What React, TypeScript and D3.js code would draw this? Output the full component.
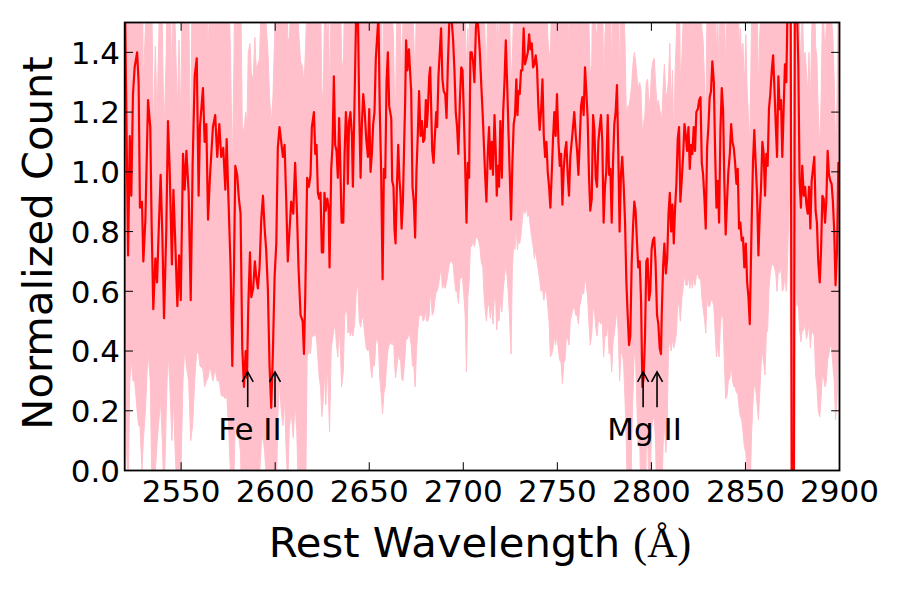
import React from 'react';
import * as d3 from 'd3';

// Rest wavelength (Å), normalized count and its 1-sigma error
const WAVE = [
  2520.2, 2521.8, 2522.7, 2523.5, 2524.4, 2525.3, 2526.6, 2527.4, 2528.1, 2529.2,
  2529.9, 2531.0, 2532.4, 2533.6, 2534.3, 2535.2, 2536.3, 2537.2, 2537.9, 2539.1,
  2540.0, 2540.9, 2542.1, 2543.0, 2543.9, 2545.1, 2545.9, 2546.9, 2548.0, 2548.9,
  2549.8, 2551.0, 2551.9, 2552.8, 2554.0, 2555.1, 2556.1, 2557.2, 2558.3, 2559.3,
  2560.0, 2561.6, 2562.5, 2563.4, 2564.3, 2565.3,
  2566.9, 2568.1, 2569.2, 2570.3, 2571.3, 2572.4, 2573.5, 2574.2, 2575.2, 2576.3,
  2577.2, 2578.1, 2578.8, 2579.8, 2580.7, 2581.6, 2582.5, 2583.4, 2584.3, 2585.0,
  2585.7, 2586.6, 2587.3, 2588.3, 2589.2, 2589.9, 2590.8, 2591.7, 2592.6, 2593.5,
  2594.4, 2595.2, 2596.1, 2597.0, 2597.9, 2598.8, 2599.7, 2600.6, 2601.4, 2602.3,
  2603.2, 2604.1, 2605.0, 2605.9, 2606.7, 2607.5, 2608.5, 2609.6, 2610.6, 2611.5,
  2612.4, 2613.5,
  2614.6, 2615.3, 2616.0, 2617.0, 2617.9, 2618.8, 2619.5, 2620.6, 2621.3, 2622.0,
  2622.7, 2623.4, 2624.1, 2624.8, 2625.5, 2626.2, 2626.9, 2627.7, 2628.4, 2628.9,
  2629.8, 2630.5, 2631.2, 2631.9, 2632.6, 2633.3, 2634.0, 2634.7, 2635.3, 2636.2,
  2636.9, 2637.6, 2638.3, 2638.6, 2639.3, 2640.0, 2640.8, 2641.3, 2642.2, 2643.1,
  2644.0, 2644.7, 2645.4, 2646.1, 2646.8, 2647.5, 2648.4, 2649.3, 2650.0, 2650.7,
  2651.4, 2652.1, 2652.8, 2653.5, 2654.2, 2654.9, 2655.6, 2656.3, 2657.1, 2657.8,
  2658.5, 2659.2, 2659.9, 2660.6, 2661.7,
  2662.2, 2662.9, 2663.4, 2664.0, 2664.7, 2665.4, 2666.1, 2666.6, 2667.2, 2667.9,
  2668.6, 2669.1, 2669.6, 2670.3, 2671.1, 2671.6, 2672.3, 2673.0, 2673.7, 2674.4,
  2675.1, 2675.8, 2676.5, 2677.3, 2678.0, 2678.7, 2679.4, 2680.1, 2680.6, 2681.1,
  2681.9, 2682.4, 2682.9, 2683.5, 2684.2, 2684.9, 2685.6, 2686.1, 2686.8, 2687.5,
  2688.2, 2688.9, 2689.6, 2690.4, 2691.1, 2691.8, 2692.5, 2693.2, 2693.9, 2694.6,
  2695.3, 2696.0, 2696.7, 2697.4, 2698.2, 2698.9, 2699.6, 2700.3, 2701.0, 2701.7,
  2702.4, 2703.1, 2703.8, 2704.5, 2705.2, 2705.9, 2706.7, 2707.4, 2708.1, 2708.8,
  2709.5, 2710.4,
  2710.9, 2711.6, 2712.3, 2713.0, 2713.7, 2714.4, 2715.1, 2715.8, 2716.6, 2717.3,
  2717.8, 2718.3, 2719.0, 2719.7, 2720.5, 2721.2, 2721.9, 2722.6, 2723.3, 2724.0,
  2724.7, 2725.4, 2726.1, 2726.8, 2727.5, 2728.2, 2728.8, 2729.3, 2730.0, 2730.7,
  2731.4, 2732.1, 2732.8, 2733.6, 2734.3, 2735.0, 2735.7, 2736.4, 2737.1, 2737.8,
  2738.5, 2739.2, 2739.9, 2740.6, 2741.3, 2742.1, 2742.8, 2743.5, 2744.2, 2744.9,
  2745.6, 2746.3, 2747.0, 2747.7, 2748.4, 2749.1, 2749.8, 2750.6, 2751.3, 2752.0,
  2752.7, 2753.4, 2754.1, 2754.8, 2755.5, 2756.2, 2756.9, 2758.2,
  2759.0, 2759.8, 2760.5, 2761.2, 2761.9, 2762.6, 2763.3, 2764.0, 2764.7, 2765.4,
  2766.1, 2766.8, 2767.5, 2768.3, 2769.0, 2769.7, 2770.4, 2771.1, 2771.8, 2772.5,
  2773.2, 2773.9, 2774.6, 2775.3, 2776.0, 2776.8, 2777.5, 2778.2, 2778.9, 2779.6,
  2780.3, 2781.0, 2781.7, 2782.4, 2783.1, 2783.8, 2784.5, 2785.3, 2786.0, 2786.7,
  2787.4, 2788.1, 2788.8, 2789.5, 2790.2, 2790.9, 2791.6, 2792.3, 2793.0, 2793.8,
  2794.5, 2795.2, 2795.9, 2796.6, 2797.3, 2798.0, 2798.7, 2799.4, 2800.1, 2800.8,
  2801.5, 2802.2, 2803.0, 2803.7, 2804.4, 2805.1,
  2805.5, 2806.2, 2806.9, 2807.7, 2808.4, 2809.1, 2809.8, 2810.5, 2811.2, 2811.9,
  2812.6, 2813.3, 2814.0, 2814.7, 2815.4, 2816.2, 2816.9, 2817.6, 2818.3, 2819.0,
  2819.7, 2820.4, 2821.1, 2821.8, 2822.5, 2823.2, 2823.9, 2824.7, 2825.4, 2826.1,
  2826.8, 2827.5, 2828.2, 2828.9, 2829.6, 2830.3, 2831.0, 2831.7, 2832.4, 2833.2,
  2833.9, 2834.6, 2835.3, 2836.0, 2836.7, 2837.4, 2838.1, 2838.8, 2839.5, 2840.2,
  2840.9, 2841.7, 2842.4, 2843.1, 2843.8, 2844.5, 2845.2, 2845.9, 2846.6, 2847.3,
  2848.0, 2848.7, 2849.4, 2850.2, 2850.9, 2851.6, 2852.3,
  2853.3, 2854.0, 2854.7, 2855.5, 2856.2, 2856.9, 2857.6, 2858.3, 2859.0, 2859.7,
  2860.4, 2861.1, 2861.8, 2862.5, 2863.2, 2864.0, 2864.7, 2865.4, 2866.1, 2866.8,
  2867.5, 2868.2, 2868.9, 2869.6, 2870.3, 2871.0, 2871.7, 2872.1, 2872.8, 2873.7,
  2874.8, 2875.6, 2876.5, 2877.4, 2878.1, 2878.8, 2879.5, 2880.2, 2881.0, 2881.7,
  2882.4, 2883.1, 2883.8, 2884.5, 2885.2, 2885.9, 2886.6, 2887.3, 2888.0, 2888.7,
  2889.5, 2890.2, 2890.9, 2891.6, 2892.3, 2893.0, 2893.7, 2894.4, 2895.1, 2895.8,
  2896.5, 2897.2, 2897.9, 2898.7, 2899.4, 2900.0,
];

const FLUX = [
  1.55, 0.72, 1.12, 0.92, 1.26, 1.35, 1.40, 1.30, 0.88, 0.90,
  0.70, 0.84, 1.24, 1.15, 0.83, 0.54, 0.71, 0.63, 0.77, 0.99,
  0.79, 0.51, 0.80, 1.17, 1.01, 0.69, 0.94, 0.76, 0.55, 0.72,
  0.57, 1.06, 0.94, 1.07, 0.93, 0.57, 1.02, 1.32, 1.38, 0.92,
  1.15, 1.28, 1.10, 1.16, 0.84, 0.98,
  1.15, 1.19, 1.05, 1.16, 1.05, 1.08, 0.94, 1.11, 0.90, 0.68,
  0.35, 0.68, 1.02, 0.99, 0.91, 0.86, 0.41, 0.28, 0.40, 0.31,
  0.55, 0.73, 0.58, 0.61, 0.70, 0.65, 0.61, 0.68, 0.84, 0.92,
  0.81, 0.74, 0.61, 0.35, 0.21, 0.40, 0.65, 0.76, 1.08, 1.15,
  1.10, 1.05, 1.09, 0.90, 0.70, 0.79, 0.90, 0.86, 1.03, 0.88,
  0.68, 0.52,
  0.50, 0.39, 0.59, 0.98, 0.95, 0.99, 1.15, 1.20, 1.06, 1.09,
  0.93, 0.91, 0.93, 0.73, 0.73, 0.93, 0.87, 0.91, 0.88, 0.68,
  1.01, 1.09, 1.32, 1.09, 1.07, 0.98, 1.18, 1.00, 0.83, 0.83,
  1.06, 1.20, 1.12, 0.96, 1.17, 1.20, 1.12, 0.95, 1.24, 1.55,
  1.52, 1.20, 0.98, 1.16, 1.26, 1.21, 1.11, 1.05, 1.21, 1.00,
  1.06, 1.16, 1.20, 1.38, 1.45, 1.52, 1.21, 1.01, 0.64, 1.01,
  0.98, 1.30, 1.40, 1.22, 1.18,
  0.97, 0.95, 0.81, 0.76, 0.95, 1.09, 0.97, 0.93, 0.81, 0.90,
  1.10, 1.24, 1.44, 1.34, 1.41, 1.35, 1.27, 0.95, 0.90, 0.78,
  1.00, 1.12, 1.27, 1.12, 1.17, 1.10, 1.11, 1.24, 1.15, 1.20,
  1.32, 1.35, 1.22, 1.07, 1.03, 1.12, 1.20, 1.15, 1.32, 1.40,
  1.48, 1.31, 1.27, 1.26, 1.18, 1.36, 1.49, 1.55, 1.50, 1.44,
  1.34, 1.20, 1.15, 1.06, 1.24, 1.35, 1.34, 1.19, 1.02, 0.83,
  1.03, 0.98, 1.40, 1.40, 1.37, 1.30, 1.48, 1.53, 1.47, 1.40,
  1.30, 1.18,
  1.10, 0.99, 0.90, 1.06, 1.15, 1.01, 1.10, 0.99, 1.19, 1.06,
  0.92, 1.02, 0.95, 1.17, 0.98, 1.20, 1.30, 1.44, 1.30, 1.14,
  0.99, 0.84, 1.03, 1.16, 1.19, 1.31, 1.19, 1.27, 1.26, 1.34,
  1.34, 1.48, 1.36, 1.38, 1.40, 1.46, 1.41, 1.43, 1.35, 1.36,
  1.39, 1.35, 1.22, 1.14, 1.20, 1.31, 1.12, 1.05, 1.10, 1.00,
  0.95, 0.88, 0.99, 1.11, 1.20, 1.12, 1.26, 1.10, 1.02, 1.06,
  0.89, 1.01, 1.07, 1.10, 0.99, 0.92, 1.05, 1.14,
  1.20, 1.12, 1.07, 0.99, 1.10, 1.22, 1.25, 1.19, 1.35, 1.27,
  1.18, 0.99, 0.87, 0.91, 1.19, 1.14, 0.98, 0.95, 1.10, 1.15,
  1.19, 1.10, 0.83, 0.95, 1.00, 1.19, 0.99, 1.01, 0.83, 1.03,
  1.16, 1.20, 1.29, 1.06, 0.80, 0.99, 1.05, 0.95, 0.83, 0.63,
  0.52, 0.42, 0.45, 0.69, 0.81, 0.90, 0.87, 0.77, 0.68, 0.70,
  0.57, 0.28, 0.31, 0.45, 0.70, 0.71, 0.57, 0.60, 0.74, 0.77,
  0.78, 0.70, 0.52, 0.49, 0.41, 0.39,
  0.52, 0.68, 0.76, 0.66, 0.71, 0.86, 0.93, 0.80, 0.89, 0.76,
  0.88, 0.96, 1.11, 1.15, 0.90, 0.98, 1.06, 1.16, 1.12, 1.07,
  1.15, 1.01, 1.09, 1.06, 1.15, 1.07, 1.20, 1.21, 1.24, 1.25,
  1.03, 0.99, 0.91, 0.81, 1.08, 1.15, 1.25, 1.27, 1.37, 1.30,
  1.06, 0.88, 0.97, 0.83, 1.14, 1.28, 1.21, 0.96, 0.79, 0.90,
  1.00, 1.06, 1.16, 1.10, 1.08, 1.03, 0.96, 1.01, 0.81, 0.83,
  0.77, 0.78, 0.68, 0.76, 0.63, 0.58, 0.49,
  0.83, 1.03, 1.14, 1.02, 0.92, 0.72, 0.86, 0.95, 1.10, 1.06,
  0.92, 1.06, 1.02, 1.21, 1.26, 1.34, 1.39, 1.28, 1.16, 1.05,
  1.32, 1.21, 1.24, 1.05, 1.21, 1.36, 1.30, 1.44, 1.80, 2.50,
  -0.50, -0.50, 2.30, 1.55, 1.36, 0.97, 0.88, 1.02, 0.92, 0.95,
  0.89, 0.86, 0.95, 0.81, 0.97, 1.01, 1.05, 0.87, 0.83, 0.70,
  0.63, 0.74, 0.92, 0.91, 0.83, 0.90, 1.07, 0.99, 0.97, 0.96,
  0.90, 0.80, 0.62, 0.74, 1.03, 1.03,
];

const FLUX_ERR = [
  1.30, 0.82, 0.82, 0.55, 0.96, 1.05, 1.20, 1.15, 0.73, 0.90,
  0.60, 0.64, 0.84, 0.85, 0.83, 0.59, 0.71, 0.54, 0.62, 0.76,
  0.69, 0.61, 0.60, 0.77, 0.71, 0.59, 0.70, 0.71, 0.65, 0.72,
  0.60, 0.76, 0.53, 0.72, 0.63, 0.47, 0.87, 1.02, 0.98, 0.53,
  0.80, 0.94, 0.82, 0.86, 0.53, 0.63,
  0.85, 0.85, 0.75, 0.86, 0.80, 0.83, 0.70, 0.85, 0.75, 0.70,
  0.65, 0.70, 0.85, 0.85, 0.80, 0.80, 0.75, 0.85, 0.80, 0.85,
  0.85, 0.70, 0.75, 0.70, 0.75, 0.70, 0.75, 0.70, 0.75, 0.80,
  0.75, 0.75, 0.80, 0.90, 0.95, 0.85, 0.80, 0.85, 0.90, 0.85,
  0.90, 0.90, 0.85, 0.85, 0.75, 0.65, 0.70, 0.75, 0.80, 0.75,
  0.80, 0.85,
  0.85, 0.90, 0.80, 0.60, 0.55, 0.60, 0.70, 0.75, 0.60, 0.65,
  0.55, 0.60, 0.65, 0.55, 0.50, 0.60, 0.65, 0.55, 0.65, 0.55,
  0.60, 0.65, 0.85, 0.60, 0.65, 0.60, 0.70, 0.60, 0.55, 0.50,
  0.55, 0.65, 0.60, 0.50, 0.70, 0.75, 0.65, 0.50, 0.75, 0.95,
  0.90, 0.70, 0.50, 0.65, 0.75, 0.75, 0.70, 0.65, 0.80, 0.65,
  0.75, 0.80, 0.85, 0.95, 1.00, 1.10, 0.90, 0.75, 0.45, 0.75,
  0.70, 0.95, 1.00, 0.80, 0.75,
  0.55, 0.50, 0.45, 0.45, 0.60, 0.70, 0.60, 0.55, 0.50, 0.60,
  0.75, 0.85, 1.00, 0.90, 0.95, 0.90, 0.85, 0.60, 0.55, 0.50,
  0.60, 0.65, 0.75, 0.60, 0.65, 0.60, 0.60, 0.70, 0.65, 0.70,
  0.80, 0.75, 0.65, 0.55, 0.50, 0.55, 0.60, 0.55, 0.70, 0.75,
  0.80, 0.70, 0.65, 0.65, 0.55, 0.70, 0.80, 0.85, 0.80, 0.75,
  0.70, 0.60, 0.55, 0.50, 0.60, 0.70, 0.70, 0.60, 0.50, 0.50,
  0.45, 0.35, 0.65, 0.65, 0.60, 0.55, 0.70, 0.75, 0.70, 0.65,
  0.60, 0.50,
  0.50, 0.45, 0.40, 0.50, 0.60, 0.50, 0.55, 0.50, 0.60, 0.50,
  0.45, 0.50, 0.45, 0.60, 0.45, 0.60, 0.65, 0.75, 0.65, 0.55,
  0.50, 0.45, 0.35, 0.40, 0.45, 0.50, 0.45, 0.50, 0.50, 0.55,
  0.50, 0.60, 0.50, 0.50, 0.55, 0.60, 0.60, 0.65, 0.60, 0.65,
  0.65, 0.65, 0.55, 0.50, 0.60, 0.70, 0.55, 0.45, 0.50, 0.45,
  0.45, 0.50, 0.60, 0.70, 0.75, 0.70, 0.80, 0.70, 0.65, 0.70,
  0.60, 0.65, 0.70, 0.65, 0.55, 0.50, 0.55, 0.60,
  0.65, 0.60, 0.55, 0.50, 0.55, 0.65, 0.65, 0.60, 0.70, 0.65,
  0.60, 0.50, 0.45, 0.45, 0.65, 0.60, 0.50, 0.50, 0.60, 0.65,
  0.70, 0.60, 0.45, 0.50, 0.55, 0.70, 0.60, 0.60, 0.50, 0.60,
  0.70, 0.70, 0.75, 0.60, 0.50, 0.60, 0.65, 0.60, 0.60, 0.55,
  0.70, 0.80, 0.80, 0.60, 0.55, 0.50, 0.50, 0.55, 0.60, 0.60,
  0.70, 0.85, 0.85, 0.75, 0.60, 0.60, 0.65, 0.65, 0.60, 0.60,
  0.60, 0.60, 0.70, 0.75, 0.80, 0.80,
  0.65, 0.60, 0.60, 0.60, 0.55, 0.45, 0.50, 0.40, 0.45, 0.35,
  0.45, 0.50, 0.55, 0.60, 0.40, 0.40, 0.45, 0.50, 0.50, 0.45,
  0.50, 0.40, 0.45, 0.45, 0.50, 0.45, 0.55, 0.55, 0.60, 0.60,
  0.45, 0.45, 0.40, 0.35, 0.50, 0.60, 0.70, 0.70, 0.80, 0.75,
  0.60, 0.50, 0.55, 0.45, 0.65, 0.75, 0.70, 0.60, 0.55, 0.65,
  0.70, 0.75, 0.80, 0.80, 0.80, 0.75, 0.70, 0.75, 0.60, 0.65,
  0.60, 0.65, 0.60, 0.70, 0.65, 0.60, 0.60,
  0.70, 0.80, 0.85, 0.75, 0.70, 0.55, 0.60, 0.60, 0.70, 0.70,
  0.60, 0.60, 0.55, 0.60, 0.60, 0.65, 0.70, 0.60, 0.50, 0.45,
  0.65, 0.55, 0.55, 0.45, 0.60, 0.70, 0.70, 0.80, 1.00, 1.50,
  1.50, 1.50, 1.50, 1.00, 0.80, 0.50, 0.45, 0.55, 0.45, 0.45,
  0.45, 0.40, 0.45, 0.40, 0.50, 0.55, 0.60, 0.55, 0.55, 0.50,
  0.45, 0.50, 0.60, 0.60, 0.55, 0.60, 0.70, 0.60, 0.55, 0.55,
  0.55, 0.50, 0.45, 0.50, 0.65, 0.65,
];

const X_TICKS = [2550, 2600, 2650, 2700, 2750, 2800, 2850, 2900];
const Y_TICKS = [0.0, 0.2, 0.4, 0.6, 0.8, 1.0, 1.2, 1.4];
const X_DOMAIN = [2520, 2900];
const Y_DOMAIN = [0, 1.5];

// Absorption line markers
const LINE_GROUPS = ['Fe II', 'Mg II'];
const LINE_WAVES = [[2585.4, 2599.9], [2795.6, 2803.0]];
const LABEL_WAVES = [2586.6, 2796.4];
const ARROW_TIP = 0.33;
const ARROW_TAIL = 0.212;
const LABEL_Y = 0.102;

const SANS = "'DejaVu Sans', 'Liberation Sans', sans-serif";
const SERIF = "'Liberation Serif', 'DejaVu Serif', serif";

export default function App() {
  const W = 900;
  const H = 600;
  const left = 124.7, right = 839.5, top = 22.5, bottom = 470.5;

  const x = d3.scaleLinear().domain(X_DOMAIN).range([left, right]);
  const y = d3.scaleLinear().domain(Y_DOMAIN).range([bottom, top]);

  const n = Math.min(WAVE.length, FLUX.length, FLUX_ERR.length);
  const data = d3.range(n).map((i) => ({ w: WAVE[i], f: FLUX[i], e: FLUX_ERR[i] }));

  const area = d3
    .area<{ w: number; f: number; e: number }>()
    .x((d) => x(d.w))
    .y0((d) => y(d.f - d.e))
    .y1((d) => y(d.f + d.e));
  const line = d3
    .line<{ w: number; f: number; e: number }>()
    .x((d) => x(d.w))
    .y((d) => y(d.f));

  const tickLen = 8.3;
  const fmt = d3.format('.1f');

  return (
    <svg
      width={W}
      height={H}
      viewBox={`0 0 ${W} ${H}`}
      style={{ position: 'absolute', left: 0, top: 0, background: '#fff' }}
    >
      <defs>
        <clipPath id="plotclip">
          <rect x={left} y={top} width={right - left} height={bottom - top} />
        </clipPath>
      </defs>
      <rect x={0} y={0} width={W} height={H} fill="#fff" />
      <g clipPath="url(#plotclip)">
        <path d={area(data) || ''} fill="#FFC0CB" stroke="#FFC0CB" strokeWidth={1} />
        <path
          d={line(data) || ''}
          fill="none"
          stroke="#FF0000"
          strokeWidth={2.2}
          strokeLinejoin="round"
        />
      </g>

      {/* ticks */}
      {X_TICKS.map((t) => (
        <g key={'xt' + t}>
          <line x1={x(t)} x2={x(t)} y1={bottom} y2={bottom - tickLen} stroke="#000" strokeWidth={1} />
          <line x1={x(t)} x2={x(t)} y1={top} y2={top + tickLen} stroke="#000" strokeWidth={1} />
          <text
            x={x(t)}
            y={502}
            textAnchor="middle"
            fontFamily={SANS}
            fontSize={31}
            fill="#000"
          >
            {t}
          </text>
        </g>
      ))}
      {Y_TICKS.map((t) => (
        <g key={'yt' + t}>
          <line x1={left} x2={left + tickLen} y1={y(t)} y2={y(t)} stroke="#000" strokeWidth={1} />
          <line x1={right} x2={right - tickLen} y1={y(t)} y2={y(t)} stroke="#000" strokeWidth={1} />
          <text
            x={120}
            y={y(t) + 11.3}
            textAnchor="end"
            fontFamily={SANS}
            fontSize={31}
            fill="#000"
          >
            {fmt(t)}
          </text>
        </g>
      ))}

      {/* frame */}
      <rect
        x={left}
        y={top}
        width={right - left}
        height={bottom - top}
        fill="none"
        stroke="#000"
        strokeWidth={1.8}
      />

      {/* line markers */}
      {LINE_GROUPS.map((name, gi) => (
        <g key={name}>
          {LINE_WAVES[gi].map((w) => {
            const xx = x(w);
            const yt = y(ARROW_TIP);
            return (
              <g key={name + w}>
                <line x1={xx} x2={xx} y1={y(ARROW_TAIL)} y2={yt} stroke="#000" strokeWidth={1.6} />
                <polyline
                  points={`${xx - 5.5},${yt + 10} ${xx},${yt} ${xx + 5.5},${yt + 10}`}
                  fill="none"
                  stroke="#000"
                  strokeWidth={1.6}
                />
              </g>
            );
          })}
          <text
            x={x(LABEL_WAVES[gi])}
            y={y(LABEL_Y)}
            textAnchor="middle"
            fontFamily={SANS}
            fontSize={31}
            fill="#000"
          >
            {name}
          </text>
        </g>
      ))}

      {/* axis labels */}
      <text x={480} y={557} textAnchor="middle" fontSize={41.7} fill="#000">
        <tspan fontFamily={SANS}>Rest Wavelength </tspan>
        <tspan fontFamily={SERIF}>(Å)</tspan>
      </text>
      <text
        transform={`translate(51.7, 243) rotate(-90)`}
        textAnchor="middle"
        fontFamily={SANS}
        fontSize={41.7}
        fill="#000"
      >
        Normalized Count
      </text>
    </svg>
  );
}
